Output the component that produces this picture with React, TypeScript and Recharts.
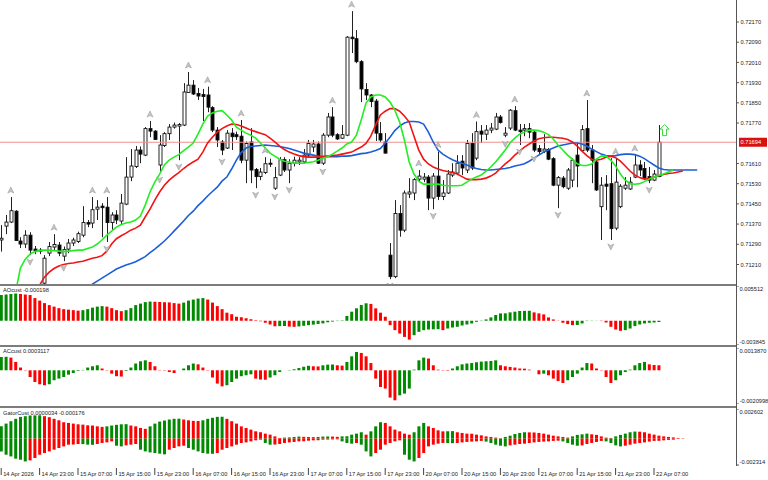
import React from 'react';
import { ComposedChart, Bar, Line, Scatter, XAxis, YAxis, Cell, ReferenceLine } from 'recharts';

// hourly candles, bar 0 = 14 Apr 15:00
const OPEN = [0.71307, 0.71362, 0.71378, 0.71421, 0.71303, 0.71291, 0.71326, 0.71271, 0.71263, 0.71136,
  0.71255, 0.71279, 0.71287, 0.71243, 0.71271, 0.71295, 0.71301, 0.71326, 0.71376, 0.71374,
  0.71429, 0.71441, 0.71437, 0.71376, 0.71406, 0.71382, 0.71449, 0.71556, 0.71598, 0.71663,
  0.71643, 0.71748, 0.71738, 0.71604, 0.71681, 0.71728, 0.71754, 0.71758, 0.71762, 0.71891,
  0.7192, 0.71887, 0.71883, 0.71881, 0.71831, 0.71742, 0.71695, 0.71671, 0.7173, 0.71724,
  0.71718, 0.71623, 0.71695, 0.71586, 0.71558, 0.71574, 0.71611, 0.71512, 0.71564, 0.71625,
  0.71584, 0.71611, 0.71616, 0.71616, 0.71643, 0.71675, 0.71687, 0.71611, 0.71722, 0.71794,
  0.71724, 0.7171, 0.71722, 0.7211, 0.72104, 0.72013, 0.71903, 0.71881, 0.71857, 0.71728,
  0.71695, 0.71247, 0.71162, 0.71412, 0.71346, 0.71489, 0.71493, 0.71548, 0.71548, 0.71556,
  0.71473, 0.7156, 0.71479, 0.71493, 0.71564, 0.71572, 0.71619, 0.71584, 0.71689, 0.71631,
  0.71738, 0.71726, 0.71742, 0.71746, 0.71794, 0.71722, 0.7175, 0.71819, 0.71742, 0.71742,
  0.71748, 0.71734, 0.71669, 0.71659, 0.71665, 0.71629, 0.71524, 0.71552, 0.71512, 0.71544,
  0.71643, 0.71661, 0.71748, 0.71663, 0.71616, 0.71439, 0.71528, 0.7153, 0.71354, 0.71439,
  0.71512, 0.71509, 0.71556, 0.71604, 0.7159, 0.71558, 0.71544, 0.71558];
const HIGH = [0.71366, 0.71406, 0.71477, 0.71425, 0.71318, 0.71346, 0.71338, 0.71283, 0.71275, 0.71247,
  0.71299, 0.7133, 0.71299, 0.71281, 0.71311, 0.71316, 0.7134, 0.71441, 0.71386, 0.71477,
  0.71465, 0.71453, 0.71477, 0.71417, 0.71425, 0.71489, 0.71635, 0.71667, 0.71679, 0.71677,
  0.71754, 0.71778, 0.71742, 0.71722, 0.71734, 0.71766, 0.71772, 0.7177, 0.71928, 0.71972,
  0.7194, 0.71909, 0.71905, 0.71914, 0.71837, 0.71754, 0.71703, 0.71742, 0.7175, 0.71736,
  0.71782, 0.71697, 0.7175, 0.71592, 0.71592, 0.71635, 0.71629, 0.71596, 0.71635, 0.71635,
  0.71627, 0.71637, 0.71635, 0.71667, 0.71703, 0.71703, 0.71697, 0.7173, 0.7181, 0.71833,
  0.7173, 0.71762, 0.72114, 0.72213, 0.72138, 0.72019, 0.71928, 0.71885, 0.71865, 0.71774,
  0.7173, 0.71295, 0.71465, 0.71445, 0.71503, 0.71552, 0.71552, 0.71584, 0.71572, 0.71564,
  0.71572, 0.71657, 0.71544, 0.71584, 0.71611, 0.71643, 0.71643, 0.71703, 0.7173, 0.71776,
  0.71762, 0.71762, 0.7177, 0.7181, 0.71802, 0.71754, 0.71825, 0.71837, 0.71766, 0.71766,
  0.7177, 0.71742, 0.71683, 0.71726, 0.71671, 0.71635, 0.7156, 0.7156, 0.71592, 0.71631,
  0.71691, 0.71762, 0.71861, 0.71683, 0.71623, 0.71556, 0.71564, 0.71631, 0.71631, 0.71528,
  0.71556, 0.71556, 0.71643, 0.71623, 0.71616, 0.71596, 0.71584, 0.71762];
const LOW = [0.71261, 0.7133, 0.71374, 0.71303, 0.71275, 0.71275, 0.71247, 0.71251, 0.71251, 0.71132,
  0.71243, 0.71267, 0.71243, 0.71223, 0.71255, 0.71283, 0.71295, 0.71318, 0.71358, 0.71354,
  0.71386, 0.71318, 0.71299, 0.71346, 0.7137, 0.7137, 0.71445, 0.7154, 0.71592, 0.71611,
  0.71639, 0.71714, 0.71703, 0.71572, 0.71675, 0.71703, 0.71748, 0.71623, 0.71758, 0.71889,
  0.71881, 0.71861, 0.71778, 0.71813, 0.71734, 0.71675, 0.71643, 0.71667, 0.71663, 0.71703,
  0.71611, 0.71532, 0.71532, 0.71512, 0.71544, 0.71568, 0.71596, 0.71505, 0.7156, 0.71576,
  0.71532, 0.71598, 0.71604, 0.71611, 0.71635, 0.71655, 0.71608, 0.71604, 0.71714, 0.71714,
  0.71703, 0.71708, 0.71718, 0.72047, 0.72007, 0.71853, 0.71861, 0.71833, 0.71699, 0.71695,
  0.71649, 0.71152, 0.71156, 0.7132, 0.71338, 0.71473, 0.71465, 0.71536, 0.71536, 0.71425,
  0.71429, 0.71465, 0.71465, 0.71489, 0.71556, 0.71564, 0.71564, 0.71572, 0.71584, 0.71623,
  0.71691, 0.71703, 0.7173, 0.71742, 0.71768, 0.71714, 0.71742, 0.71738, 0.71683, 0.71718,
  0.7171, 0.71655, 0.71647, 0.71651, 0.71623, 0.7152, 0.71433, 0.71512, 0.71505, 0.71516,
  0.71516, 0.71655, 0.71655, 0.71532, 0.71501, 0.71307, 0.71425, 0.71307, 0.71346, 0.71433,
  0.71505, 0.71505, 0.71552, 0.7156, 0.71544, 0.71532, 0.7154, 0.71556];
const CLOSE = [0.71314, 0.71378, 0.71423, 0.71305, 0.71291, 0.71326, 0.71267, 0.71265, 0.71267, 0.71235,
  0.71281, 0.71289, 0.71255, 0.71269, 0.71295, 0.71307, 0.71332, 0.71376, 0.7137, 0.71427,
  0.71437, 0.71435, 0.71376, 0.71406, 0.71386, 0.71453, 0.71556, 0.716, 0.71663, 0.71647,
  0.71748, 0.71738, 0.71705, 0.71683, 0.71728, 0.71754, 0.71762, 0.71764, 0.71893, 0.7192,
  0.71885, 0.71877, 0.71875, 0.71833, 0.71742, 0.71703, 0.71663, 0.7173, 0.71716, 0.71716,
  0.71623, 0.71689, 0.71584, 0.71558, 0.71576, 0.71609, 0.71608, 0.71554, 0.71625, 0.71584,
  0.71611, 0.71623, 0.71623, 0.71643, 0.71689, 0.71687, 0.71611, 0.71722, 0.71794, 0.71722,
  0.71707, 0.71724, 0.7211, 0.72104, 0.72013, 0.71905, 0.71881, 0.71855, 0.7173, 0.71703,
  0.71651, 0.71162, 0.71412, 0.71346, 0.71493, 0.71497, 0.71546, 0.7156, 0.71556, 0.71473,
  0.7156, 0.71479, 0.71493, 0.71568, 0.71576, 0.71611, 0.71592, 0.71689, 0.71592, 0.71736,
  0.71726, 0.71742, 0.7175, 0.71794, 0.71772, 0.7173, 0.71821, 0.71742, 0.71736, 0.71748,
  0.71734, 0.71663, 0.71657, 0.71667, 0.71627, 0.71524, 0.71554, 0.71518, 0.71584, 0.71623,
  0.716, 0.71744, 0.71663, 0.71623, 0.71505, 0.71524, 0.7152, 0.71352, 0.71536, 0.7152,
  0.71524, 0.71536, 0.71604, 0.71584, 0.71552, 0.71544, 0.71568, 0.71694];

// alligator lines, already shifted forward (lips 3, teeth 5, jaw 8 bars)
const LIPS_FROM = 3;
const LIPS = [0.71101, 0.71196, 0.71231, 0.71251, 0.71261, 0.71265, 0.71267, 0.71267, 0.71265, 0.71263,
  0.71261, 0.71263, 0.71265, 0.71267, 0.71267, 0.71273, 0.71279, 0.71291, 0.71307, 0.71326,
  0.71342, 0.71358, 0.71368, 0.71374, 0.71378, 0.71386, 0.71402, 0.71445, 0.71497, 0.71536,
  0.71568, 0.71604, 0.71623, 0.71635, 0.71645, 0.71661, 0.71675, 0.71691, 0.71726, 0.71766,
  0.71798, 0.7181, 0.71817, 0.71819, 0.71802, 0.71782, 0.71754, 0.71742, 0.7173, 0.71722,
  0.7171, 0.71691, 0.71671, 0.71651, 0.71639, 0.71627, 0.71619, 0.71616, 0.71611, 0.71611,
  0.71611, 0.71614, 0.71617, 0.71623, 0.71631, 0.71637, 0.71647, 0.71659, 0.71671, 0.71687,
  0.71695, 0.71722, 0.71782, 0.71849, 0.71873, 0.71881, 0.71881, 0.71873, 0.71853, 0.71821,
  0.71774, 0.71703, 0.71616, 0.71568, 0.7154, 0.71528, 0.71528, 0.71528, 0.71528, 0.71524,
  0.71522, 0.71522, 0.71522, 0.71524, 0.71536, 0.71548, 0.71556, 0.71564, 0.7158, 0.71596,
  0.71616, 0.71639, 0.71663, 0.71691, 0.7171, 0.71726, 0.71734, 0.71742, 0.71742, 0.7174,
  0.71734, 0.71724, 0.71707, 0.71683, 0.71663, 0.71643, 0.71627, 0.71609, 0.71602, 0.71602,
  0.71608, 0.71627, 0.71639, 0.71639, 0.71623, 0.716, 0.71568, 0.71544, 0.7153, 0.71528,
  0.7153, 0.71538, 0.71548, 0.71556, 0.71562, 0.71568, 0.71576, 0.71584];
const TEETH_FROM = 7;
const TEETH = [0.71089, 0.71128, 0.7116, 0.7118, 0.71194, 0.71204, 0.7121, 0.71214, 0.71216, 0.7122,
  0.71223, 0.71229, 0.71235, 0.71239, 0.71245, 0.71263, 0.71291, 0.71312, 0.71324, 0.71334,
  0.71346, 0.71354, 0.71366, 0.71398, 0.71429, 0.71465, 0.71497, 0.71524, 0.71544, 0.7156,
  0.71574, 0.7159, 0.71604, 0.71616, 0.71627, 0.71655, 0.71691, 0.71714, 0.71734, 0.71748,
  0.71758, 0.71766, 0.71764, 0.71758, 0.7175, 0.71742, 0.71736, 0.7173, 0.71724, 0.7171,
  0.71695, 0.71679, 0.71665, 0.71655, 0.71647, 0.71641, 0.71637, 0.71635, 0.71635, 0.71635,
  0.71637, 0.71639, 0.71641, 0.71643, 0.71647, 0.71651, 0.71655, 0.71665, 0.71675, 0.71689,
  0.71718, 0.71762, 0.71802, 0.71817, 0.71827, 0.71827, 0.71817, 0.71798, 0.71774, 0.71718,
  0.71663, 0.71627, 0.71608, 0.71596, 0.71588, 0.71582, 0.71578, 0.71574, 0.71568, 0.71558,
  0.71548, 0.71546, 0.71546, 0.71548, 0.71552, 0.7156, 0.71572, 0.7159, 0.71608, 0.71623,
  0.71643, 0.71659, 0.71675, 0.71687, 0.71699, 0.71708, 0.71712, 0.71714, 0.71714, 0.71712,
  0.7171, 0.71705, 0.71695, 0.71679, 0.71659, 0.71641, 0.71627, 0.71623, 0.71627, 0.71635,
  0.71639, 0.71633, 0.71619, 0.716, 0.7158, 0.71564, 0.71554, 0.71548, 0.7155, 0.71556,
  0.71562, 0.71566, 0.7157, 0.71572, 0.71576, 0.7158];
const JAW_FROM = 17;
const JAW = [0.71101, 0.71116, 0.71132, 0.71144, 0.71156, 0.71168, 0.7118, 0.71192, 0.712, 0.71208,
  0.71214, 0.71221, 0.71231, 0.71241, 0.71257, 0.71271, 0.71287, 0.71303, 0.71322, 0.71342,
  0.71362, 0.71382, 0.71404, 0.71421, 0.71443, 0.71461, 0.71481, 0.71499, 0.71516, 0.7154,
  0.71556, 0.71588, 0.71623, 0.71653, 0.71671, 0.71677, 0.71679, 0.71681, 0.71683, 0.71681,
  0.71679, 0.71677, 0.71673, 0.71669, 0.71663, 0.71657, 0.71651, 0.71647, 0.71643, 0.71639,
  0.71637, 0.71637, 0.71637, 0.71637, 0.71639, 0.71639, 0.71641, 0.71645, 0.71649, 0.71651,
  0.71655, 0.71661, 0.71669, 0.71691, 0.71714, 0.7174, 0.71758, 0.7177, 0.71776, 0.71776,
  0.71774, 0.71766, 0.71734, 0.71695, 0.71663, 0.71647, 0.71635, 0.71625, 0.71617, 0.71611,
  0.71604, 0.71596, 0.7159, 0.71586, 0.71584, 0.71584, 0.71586, 0.71588, 0.7159, 0.71594,
  0.716, 0.71604, 0.71609, 0.71619, 0.71631, 0.71643, 0.71655, 0.71663, 0.71671, 0.71679,
  0.71683, 0.71687, 0.71691, 0.71691, 0.71687, 0.71679, 0.71667, 0.71657, 0.71647, 0.71641,
  0.71639, 0.71641, 0.71645, 0.71647, 0.71647, 0.71645, 0.71639, 0.71629, 0.71616, 0.71604,
  0.71592, 0.71586, 0.71584, 0.71584, 0.71584, 0.71584, 0.71584, 0.71584, 0.71584];

const UP_FRACTALS = [2, 11, 19, 22, 31, 39, 43, 50, 55, 69, 73, 87, 91, 99, 107, 122, 128, 132];
const DOWN_FRACTALS = [6, 13, 22, 33, 37, 46, 53, 57, 60, 67, 81, 90, 105, 108, 111, 116, 127, 135];

const AO = [0.00408, 0.00416, 0.00424, 0.00432, 0.00424, 0.00416, 0.00408, 0.0036, 0.0032, 0.0028,
  0.00248, 0.00224, 0.002, 0.00184, 0.00176, 0.00168, 0.0016, 0.00168, 0.00184, 0.00208,
  0.00224, 0.00232, 0.00224, 0.002, 0.00168, 0.00152, 0.00168, 0.002, 0.00248, 0.00272,
  0.00296, 0.00304, 0.00301, 0.00298, 0.00294, 0.00291, 0.0028, 0.00272, 0.00288, 0.0032,
  0.00336, 0.00352, 0.0036, 0.00336, 0.00288, 0.00232, 0.00184, 0.00128, 0.00104, 0.00064,
  0.00056, 0.0004, 0.00024, 0.00008, -0.00008, -0.00032, -0.00059, -0.00088, -0.00085, -0.00083,
  -0.00093, -0.00096, -0.0009, -0.0008, -0.0007, -0.00061, -0.00051, -0.00042, -0.00024, -0.00013,
  -0.00005, 0.00006, 0.00075, 0.00144, 0.00197, 0.00251, 0.00277, 0.00267, 0.00197, 0.00128,
  0.00064, -0.00069, -0.00149, -0.00203, -0.00256, -0.00299, -0.00229, -0.00176, -0.00149, -0.00139,
  -0.00136, -0.00133, -0.00149, -0.00123, -0.00107, -0.00096, -0.00075, -0.00059, -0.00043, -0.00016,
  -0.00005, 0.00021, 0.00053, 0.00091, 0.00117, 0.00118, 0.00133, 0.00144, 0.00155, 0.00157,
  0.00158, 0.00133, 0.00117, 0.00101, 0.00053, 0.00021, -0.00003, -0.00032, -0.00053, -0.00069,
  -0.00067, -0.00043, -0.00005, -0.00003, -0.00002, -0.00005, -0.00027, -0.00096, -0.00139, -0.0016,
  -0.00149, -0.00123, -0.00085, -0.00059, -0.00043, -0.00032, -0.00027, -0.000198];
const AC = [0.00083, 0.00084, 0.00079, 0.00052, 0.00017, -0.00002, -0.00042, -0.00073, -0.00087, -0.00093,
  -0.00087, -0.00062, -0.00052, -0.00042, -0.00027, -0.00017, -0.00004, 0.00002, 0.00017, 0.00025,
  0.00031, 0.00011, -0.00002, -0.00021, -0.00037, -0.00039, -0.00004, 0.00017, 0.00042, 0.00056,
  0.00062, 0.00052, 0.00025, 0.00002, -0.00002, -0.00011, -0.00017, 0, 0.00011, 0.00031,
  0.00042, 0.00037, 0.00017, -0.00002, -0.00045, -0.00083, -0.001, -0.00093, -0.00073, -0.00052,
  -0.00037, -0.00031, -0.00025, -0.00052, -0.00058, -0.00059, -0.00045, -0.00031, -0.00011, 0,
  0.00002, 0.00006, 0.00014, 0.00022, 0.00028, 0.00025, 0.00024, 0.00031, 0.00035, 0.00036,
  0.00031, 0.00029, 0.00052, 0.00087, 0.00114, 0.00108, 0.00087, 0.00045, -0.00052, -0.00104,
  -0.00114, -0.0017, -0.00187, -0.00156, -0.00145, -0.00114, 0.00004, 0.00062, 0.00079, 0.00073,
  0.00031, 0.00004, -0.00002, -0.00003, 0.00011, 0.00025, 0.00037, 0.00042, 0.00045, 0.0005,
  0.00054, 0.00056, 0.00058, 0.00062, 0.00031, 0.00025, 0.00021, 0.00017, 0.00011, 0.0001,
  0.00004, 0, -0.00025, -0.00021, -0.00031, -0.00052, -0.00067, -0.00079, -0.00062, -0.00042,
  -0.00021, 0.00017, 0.00045, 0.00042, 0.00011, -0.00002, -0.00042, -0.00079, -0.00062, -0.00031,
  -0.00011, 0.00004, 0.00031, 0.00045, 0.00052, 0.00037, 0.00033, 0.0003117];
const GATOR_UP = [0.00108, 0.00132, 0.00153, 0.00174, 0.00191, 0.00197, 0.00203, 0.00204, 0.00205, 0.00197,
  0.00188, 0.00174, 0.00161, 0.00144, 0.00138, 0.00132, 0.00126, 0.00123, 0.00117, 0.00115,
  0.00108, 0.00103, 0.00108, 0.00115, 0.00121, 0.00126, 0.00127, 0.00115, 0.00108, 0.00094,
  0.00086, 0.00108, 0.00132, 0.0015, 0.00159, 0.00168, 0.00174, 0.00175, 0.00168, 0.00161,
  0.00156, 0.00155, 0.00161, 0.00174, 0.00183, 0.00191, 0.00192, 0.00174, 0.00153, 0.00132,
  0.00108, 0.00094, 0.00079, 0.00064, 0.00056, 0.00044, 0.00035, 0.0002, 0.00006, 0.00009,
  0.00011, 0.00015, 0.00018, 0.00016, 0.00014, 0.00013, 0.00015, 0.00018, 0.00019, 0.00018,
  0.00016, 0.0002, 0.00021, 0.00035, 0.00044, 0.00056, 0.00035, 0.00064, 0.00108, 0.00144,
  0.00138, 0.00108, 0.00079, 0.00064, 0.00044, 0.00035, 0.00056, 0.00108, 0.00138, 0.00108,
  0.00094, 0.00073, 0.00064, 0.00065, 0.00066, 0.00056, 0.0005, 0.00044, 0.00043, 0.00035,
  0.00029, 0.0002, 0.00015, 0.00009, 0.00003, 0.00015, 0.00026, 0.00041, 0.0005, 0.00056,
  0.00055, 0.00054, 0.0005, 0.00044, 0.00035, 0.00026, 0.0002, 0.00015, 0.00009, 0.0002,
  0.00033, 0.00038, 0.00044, 0.00038, 0.00033, 0.0002, 0.00009, 0.00006, 0.0002, 0.00033,
  0.00044, 0.00056, 0.00062, 0.00061, 0.00056, 0.00044, 0.00035, 0.00026, 0.0002, 0.00015,
  0.00011, 0.00006, 0.00003];
const GATOR_DOWN = [0.00112, 0.00141, 0.00156, 0.00176, 0.00185, 0.002, 0.00191, 0.0017, 0.00141, 0.00126,
  0.00112, 0.00097, 0.00082, 0.00068, 0.00053, 0.00052, 0.00047, 0.00048, 0.00053, 0.00054,
  0.00047, 0.00038, 0.00033, 0.00024, 0.00062, 0.00068, 0.00059, 0.00053, 0.00047, 0.00097,
  0.00112, 0.00121, 0.00126, 0.00132, 0.00138, 0.00097, 0.00082, 0.00068, 0.00062, 0.00082,
  0.00097, 0.00112, 0.00126, 0.00132, 0.00133, 0.00126, 0.00097, 0.00082, 0.00068, 0.00053,
  0.00038, 0.00033, 0.00024, 0.00015, 0.00009, 0.00038, 0.00053, 0.00052, 0.00047, 0.00038,
  0.00033, 0.00029, 0.00024, 0.00023, 0.00018, 0.00015, 0.00014, 0.00009, 0.00008, 0.00007,
  0.00006, 0.00024, 0.00038, 0.00044, 0.00038, 0.00053, 0.00112, 0.00156, 0.00126, 0.00097,
  0.00053, 0.00038, 0.00024, 0.00015, 0.00141, 0.00185, 0.002, 0.0017, 0.00126, 0.00068,
  0.00053, 0.00044, 0.00038, 0.00039, 0.0004, 0.00038, 0.00033, 0.00029, 0.00026, 0.00024,
  0.0002, 0.00026, 0.00038, 0.00053, 0.00062, 0.00068, 0.00059, 0.00053, 0.00047, 0.00044,
  0.00038, 0.00033, 0.00029, 0.00026, 0.00024, 0.0002, 0.00018, 0.00024, 0.00038, 0.00053,
  0.00062, 0.00059, 0.00047, 0.00038, 0.00029, 0.0002, 0.00024, 0.00038, 0.00059, 0.00068,
  0.00062, 0.00053, 0.00044, 0.00038, 0.00033, 0.00026, 0.0002, 0.00019, 0.00015, 0.00011,
  0.00009];

const LAST_PRICE = 0.71694;
const SIGNAL_ARROW = { i: 138.2, val: 0.71742 };
const PRICE_TICKS = [0.7217, 0.7209, 0.7201, 0.7193, 0.7185, 0.7177, 0.7161, 0.7153, 0.7145, 0.7137, 0.7129, 0.7121];
const TIME_TICKS = [0, 8, 16, 24, 32, 40, 48, 56, 64, 72, 80, 88, 96, 104, 112, 120, 128, 136];
const TIME_LABELS = ['14 Apr 2026', '14 Apr 23:00', '15 Apr 07:00', '15 Apr 15:00', '15 Apr 23:00',
  '16 Apr 07:00', '16 Apr 15:00', '16 Apr 23:00', '17 Apr 07:00', '17 Apr 15:00', '17 Apr 23:00',
  '20 Apr 07:00', '20 Apr 15:00', '20 Apr 23:00', '21 Apr 07:00', '21 Apr 15:00', '21 Apr 23:00', '22 Apr 07:00'];
const AO_RANGE = [-0.003845, 0.005512];
const AC_RANGE = [-0.0020998, 0.001387];
const GATOR_RANGE = [-0.002314, 0.002602];
const AO_LABELS = ['-0.003845', '0.005512'];
const AC_LABELS = ['-0.0020998', '0.0013870'];
const GATOR_LABELS = ['-0.002314', '0.002602'];

const X_DOMAIN = [-0.25, 153.29];
const MAIN_DOMAIN = [0.711328, 0.722571];
const UP = '#008a00';
const DOWN = '#ff0000';
const FONT = '"Liberation Sans", Arial, sans-serif';
const FS = 5.7;

function trendColors(values: number[]) {
  let up = true;
  return values.map((v, k) => {
    if (k > 0 && v > values[k - 1]) up = true;
    else if (k > 0 && v < values[k - 1]) up = false;
    return up ? UP : DOWN;
  });
}

const at = (arr: number[], from: number, i: number) =>
  i >= from && i - from < arr.length ? arr[i - from] : null;

const rows = Array.from({ length: 146 }, (_, i) => ({
  i,
  open: OPEN[i],
  high: HIGH[i],
  low: LOW[i],
  close: CLOSE[i],
  range: i < OPEN.length ? [LOW[i], HIGH[i]] : null,
  lips: at(LIPS, LIPS_FROM, i),
  teeth: at(TEETH, TEETH_FROM, i),
  jaw: at(JAW, JAW_FROM, i),
}));
const upFractals = UP_FRACTALS.map((i) => ({ i, val: HIGH[i] }));
const downFractals = DOWN_FRACTALS.map((i) => ({ i, val: LOW[i] }));

const aoColors = trendColors(AO);
const acColors = trendColors(AC);
const upColors = trendColors(GATOR_UP);
const dnColors = trendColors(GATOR_DOWN);
const aoRows = AO.map((v, i) => ({ i, v }));
const acRows = AC.map((v, i) => ({ i, v }));
const gatorRows = GATOR_UP.map((v, i) => ({ i, up: v, dn: i < GATOR_DOWN.length ? -GATOR_DOWN[i] : null }));

const Candle = (props: any) => {
  const { x, y, width, height, payload } = props;
  if (!payload || payload.open == null) return null;
  const { open, close, high, low } = payload;
  const top = Math.min(y, y + height);
  const h = Math.abs(height);
  const cx = Math.round(x + width / 2) + 0.5;
  const span = high - low;
  const toY = (v: number) => (span > 0 ? top + ((high - v) / span) * h : top);
  const yo = toY(open);
  const yc = toY(close);
  const bodyTop = Math.min(yo, yc);
  const bodyH = Math.max(Math.abs(yc - yo), 1);
  const bull = close >= open;
  return (
    <g>
      <line x1={cx} x2={cx} y1={top} y2={top + h} stroke="#222" strokeWidth={1} />
      <rect x={cx - 1.5} y={bodyTop} width={3} height={bodyH} fill={bull ? '#fff' : '#000'} stroke="#111" strokeWidth={0.9} />
    </g>
  );
};

const UpMark = ({ cx, cy }: any) =>
  cx == null ? null : (
    <path d={`M${cx - 3},${cy - 4} L${cx},${cy - 10} L${cx + 3},${cy - 4} L${cx},${cy - 5.5} Z`} fill="#c4c4c4" stroke="#a0a0a0" strokeWidth={0.6} />
  );
const DownMark = ({ cx, cy }: any) =>
  cx == null ? null : (
    <path d={`M${cx - 3},${cy + 4} L${cx},${cy + 10} L${cx + 3},${cy + 4} L${cx},${cy + 5.5} Z`} fill="#c4c4c4" stroke="#a0a0a0" strokeWidth={0.6} />
  );
const SignalArrow = ({ cx, cy }: any) =>
  cx == null ? null : (
    <path
      d={`M${cx},${cy - 5.5} L${cx + 4.5},${cy - 1} L${cx + 2},${cy - 1} L${cx + 2},${cy + 5.5} L${cx - 2},${cy + 5.5} L${cx - 2},${cy - 1} L${cx - 4.5},${cy - 1} Z`}
      fill="#fff" stroke="#3ed43e" strokeWidth={1}
    />
  );

const PriceTick = ({ x, y, payload }: any) => (
  <text x={x} y={y + 2.1} fontSize={FS} fontFamily={FONT} fill="#222">{payload.value.toFixed(5)}</text>
);
const rangeTick = (labels: string[], range: number[]) => ({ x, y, payload }: any) => {
  const isTop = payload.value === range[1];
  return (
    <text x={x} y={isTop ? y + 5 : y - 1} fontSize={FS} fontFamily={FONT} fill="#222">
      {isTop ? labels[1] : labels[0]}
    </text>
  );
};
const TimeTick = ({ x, y, payload }: any) => {
  const k = TIME_TICKS.indexOf(payload.value);
  return (
    <g>
      <line x1={x} x2={x} y1={y + 3} y2={y + 10} stroke="#444" strokeWidth={1} />
      <text x={x + 2} y={y + 10.5} fontSize={FS} fontFamily={FONT} fill="#222">{TIME_LABELS[k]}</text>
    </g>
  );
};
const PriceTag = ({ viewBox }: any) => {
  const x = viewBox.x + viewBox.width + 2;
  const y = viewBox.y;
  return (
    <g>
      <rect x={x} y={y - 4.5} width={28} height={9} fill="#d81010" />
      <text x={x + 1.5} y={y + 2.1} fontSize={FS} fontFamily={FONT} fill="#fff">{LAST_PRICE.toFixed(5)}</text>
    </g>
  );
};

const W = 768;
const AXIS_W = 31;
const noMargin = { top: 0, right: 0, bottom: 0, left: 0 };
const labelStyle: React.CSSProperties = {
  position: 'absolute', left: 3, fontSize: FS, fontFamily: FONT, color: '#222', lineHeight: '7px', whiteSpace: 'nowrap',
};

function SubPanel({ top, height, data, range, labels, children, withTime }: any) {
  return (
    <div style={{ position: 'absolute', left: 0, top }}>
      <ComposedChart width={W} height={height + (withTime ? 16 : 0)} data={data} margin={noMargin} stackOffset="sign">
        <XAxis
          dataKey="i" type="number" domain={X_DOMAIN} allowDataOverflow hide={!withTime}
          ticks={TIME_TICKS} interval={0} height={16} axisLine={false} tickLine={false}
          tickSize={0} tickMargin={0} tick={<TimeTick />}
        />
        <YAxis
          orientation="right" width={AXIS_W} domain={range} ticks={range} interval={0} allowDataOverflow
          axisLine={false} tickLine={{ stroke: '#555' }} tickSize={2} tickMargin={0.5} tick={rangeTick(labels, range)}
        />
        {children}
      </ComposedChart>
    </div>
  );
}

export default function App() {
  return (
    <div style={{ position: 'absolute', left: 0, top: 0, width: W, height: 480, background: '#fff', overflow: 'hidden' }}>
      <div style={{ position: 'absolute', left: 0, top: 0 }}>
        <ComposedChart width={W} height={284} data={rows} margin={noMargin}>
          <XAxis dataKey="i" type="number" domain={X_DOMAIN} allowDataOverflow hide />
          <YAxis
            orientation="right" width={AXIS_W} domain={MAIN_DOMAIN} ticks={PRICE_TICKS} interval={0} allowDataOverflow
            axisLine={false} tickLine={{ stroke: '#555' }} tickSize={2} tickMargin={1.5} tick={<PriceTick />}
          />
          <ReferenceLine y={LAST_PRICE} stroke="#f09090" strokeWidth={1} label={<PriceTag />} />
          <Bar dataKey="range" barSize={3} shape={<Candle />} isAnimationActive={false} />
          <Line dataKey="jaw" type="linear" stroke="#1a5fd8" strokeWidth={1.6} dot={false} isAnimationActive={false} />
          <Line dataKey="teeth" type="linear" stroke="#f01414" strokeWidth={1.6} dot={false} isAnimationActive={false} />
          <Line dataKey="lips" type="linear" stroke="#22ee22" strokeWidth={1.6} dot={false} isAnimationActive={false} />
          <Scatter data={upFractals} dataKey="val" shape={<UpMark />} isAnimationActive={false} />
          <Scatter data={downFractals} dataKey="val" shape={<DownMark />} isAnimationActive={false} />
          <Scatter data={[SIGNAL_ARROW]} dataKey="val" shape={<SignalArrow />} isAnimationActive={false} />
        </ComposedChart>
      </div>

      <SubPanel top={286} height={59} data={aoRows} range={AO_RANGE} labels={AO_LABELS}>
        <Bar dataKey="v" barSize={3} isAnimationActive={false}>
          {aoRows.map((r) => <Cell key={r.i} fill={aoColors[r.i]} />)}
        </Bar>
      </SubPanel>
      <SubPanel top={348} height={56} data={acRows} range={AC_RANGE} labels={AC_LABELS}>
        <Bar dataKey="v" barSize={3} isAnimationActive={false}>
          {acRows.map((r) => <Cell key={r.i} fill={acColors[r.i]} />)}
        </Bar>
      </SubPanel>
      <SubPanel top={409} height={56} data={gatorRows} range={GATOR_RANGE} labels={GATOR_LABELS} withTime>
        <Bar dataKey="up" stackId="g" barSize={3} isAnimationActive={false}>
          {gatorRows.map((r) => <Cell key={r.i} fill={upColors[r.i]} />)}
        </Bar>
        <Bar dataKey="dn" stackId="g" barSize={3} isAnimationActive={false}>
          {gatorRows.map((r) => <Cell key={r.i} fill={dnColors[r.i] || UP} />)}
        </Bar>
      </SubPanel>

      {/* window separators and price scale line */}
      <div style={{ position: 'absolute', left: 0, top: 284, width: 737, height: 2, background: '#7c7c7c' }} />
      <div style={{ position: 'absolute', left: 0, top: 345, width: 737, height: 2, background: '#7c7c7c' }} />
      <div style={{ position: 'absolute', left: 0, top: 406, width: 737, height: 2, background: '#7c7c7c' }} />
      <div style={{ position: 'absolute', left: 736, top: 0, width: 1, height: 466, background: '#555' }} />

      <div style={{ ...labelStyle, top: 287 }}>AOcust -0.000198</div>
      <div style={{ ...labelStyle, top: 348 }}>ACcust 0.0003117</div>
      <div style={{ ...labelStyle, top: 410 }}>GatorCust 0.0000034 -0.000176</div>
    </div>
  );
}
